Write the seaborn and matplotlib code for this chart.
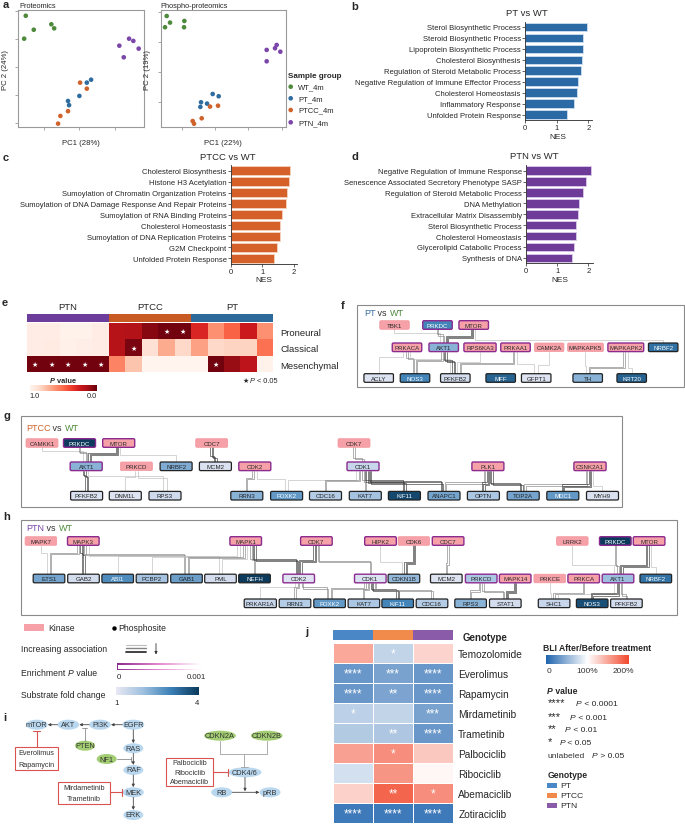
import matplotlib
matplotlib.use("Agg")
import matplotlib.pyplot as plt
import numpy as np
import pandas as pd
import seaborn as sns
from matplotlib.colors import LinearSegmentedColormap, ListedColormap
from matplotlib.patches import Ellipse, FancyBboxPatch, Rectangle

W, H = 685, 829

# ---------------- a: PCA ----------------
GROUPS = ["WT_4m", "PT_4m", "PTCC_4m", "PTN_4m"]
GROUP_COLORS = ["#4d8a3b", "#2f6c9f", "#d0622b", "#7b46a9"]
SAMPLE_GROUP = ["WT_4m"] * 5 + ["PT_4m"] * 5 + ["PTCC_4m"] * 5 + ["PTN_4m"] * 5
PROT_PC1 = [-30.2, -25.7, -15.8, -14.2, -31.1, 6.6, 4.2, 0.0, -6.4, -5.8,
            0.4, 4.2, -6.4, -10.7, -12.0, 28.0, 30.4, 22.5, 33.4, 25.0]
PROT_PC2 = [36.6, 26.6, 30.5, 27.6, 20.2, -9.1, -11.2, -20.7, -24.3, -27.3,
            -11.2, -15.5, -31.6, -35.0, -40.5, 20.2, 18.6, 15.2, 13.1, 6.9]
PHOS_PC1 = [-29.0, -27.0, -30.0, -18.4, -18.6, -1.4, 2.2, -8.4, -4.8, -8.8,
            1.8, -3.0, -8.0, -13.4, -12.6, 31.0, 37.0, 36.0, 39.2, 31.0]
PHOS_PC2 = [37.5, 33.1, 30.0, 34.2, 30.0, -14.5, -16.0, -20.0, -20.9, -23.1,
            -22.3, -22.9, -30.7, -32.5, -34.3, 14.9, 18.2, 16.0, 13.7, 7.3]

# ---------------- b-d: GSEA NES ----------------
PT_TERMS = ["Sterol Biosynthetic Process", "Steroid Biosynthetic Process",
            "Lipoprotein Biosynthetic Process", "Cholesterol Biosynthesis",
            "Regulation of Steroid Metabolic Process",
            "Negative Regulation of Immune Effector Process",
            "Cholesterol Homeostasis", "Inflammatory Response", "Unfolded Protein Response"]
PT_NES = [1.97, 1.84, 1.82, 1.79, 1.76, 1.68, 1.63, 1.55, 1.34]
PTCC_TERMS = ["Cholesterol Biosynthesis", "Histone H3 Acetylation",
              "Sumoylation of Chromatin Organization Proteins",
              "Sumoylation of DNA Damage Response And Repair Proteins",
              "Sumoylation of RNA Binding Proteins", "Cholesterol Homeostasis",
              "Sumoylation of DNA Replication Proteins", "G2M Checkpoint",
              "Unfolded Protein Response"]
PTCC_NES = [1.88, 1.84, 1.79, 1.73, 1.62, 1.56, 1.56, 1.46, 1.36]
PTN_TERMS = ["Negative Regulation of Immune Response",
             "Senescence Associated Secretory Phenotype SASP",
             "Regulation of Steroid Metabolic Process", "DNA Methylation",
             "Extracellular Matrix Disassembly", "Sterol Biosynthetic Process",
             "Cholesterol Homeostasis", "Glycerolipid Catabolic Process", "Synthesis of DNA"]
PTN_NES = [2.10, 1.91, 1.83, 1.70, 1.66, 1.61, 1.60, 1.53, 1.47]

# ---------------- e: subtype P values ----------------
SUBTYPES = ["Proneural", "Classical", "Mesenchymal"]
E_GROUPS = ["PTN", "PTCC", "PT"]
P_PRONEURAL = [0.95, 0.95, 0.98, 0.98, 0.95, 0.18, 0.17, 0.07, 0.02, 0.02,
               0.30, 0.62, 0.48, 0.25, 0.62]
P_CLASSICAL = [0.95, 0.94, 0.97, 0.96, 0.95, 0.18, 0.04, 0.88, 0.70, 0.85,
               0.67, 0.85, 0.83, 0.83, 0.52]
P_MESENCHYMAL = [0.02, 0.02, 0.02, 0.02, 0.02, 0.58, 0.78, 0.99, 0.99, 0.99,
                 0.99, 0.02, 0.10, 0.20, 0.98]

# ---------------- f-h: kinase-substrate networks ----------------
F_ROWS = [["TBK1", "PRKDC", "MTOR"],
          ["PRKACA", "AKT1", "RPS6KA3", "PRKAA1", "CAMK2A", "MAPKAPK5", "MAPKAPK2", "NRBF2"],
          ["ACLY", "NOS3", "PFKFB2", "MFF", "GFPT1", "TH", "KRT20"]]
F_FOLD = {"PRKDC": 2.9, "AKT1": 2.2, "NRBF2": 3.2, "ACLY": 1.15, "NOS3": 2.9,
          "PFKFB2": 1.3, "MFF": 3.4, "GFPT1": 1.15, "TH": 2.2, "KRT20": 3.4}
F_ENRICHED = ["PRKDC", "MTOR", "PRKACA", "AKT1", "RPS6KA3", "PRKAA1", "MAPKAPK2"]
F_EDGES = [("TBK1", "AKT1", 1), ("PRKDC", "AKT1", 2), ("MTOR", "AKT1", 3), ("MTOR", "NRBF2", 1),
           ("PRKACA", "ACLY", 1), ("PRKACA", "NOS3", 2), ("PRKACA", "PFKFB2", 1),
           ("AKT1", "NOS3", 2), ("AKT1", "PFKFB2", 3), ("RPS6KA3", "PFKFB2", 1),
           ("PRKAA1", "PFKFB2", 2), ("PRKAA1", "GFPT1", 1), ("CAMK2A", "GFPT1", 1),
           ("MAPKAPK5", "TH", 1), ("MAPKAPK2", "TH", 2), ("MAPKAPK2", "KRT20", 1)]

G_ROWS = [["CAMKK1", "PRKDC", "MTOR", "CDC7", "CDK7"],
          ["AKT1", "PRKCD", "NRBF2", "MCM2", "CDK2", "CDK1", "PLK1", "CSNK2A1"],
          ["PFKFB2", "DNM1L", "RPS3", "RRN3", "FOXK2", "CDC16", "KAT7", "KIF11",
           "ANAPC1", "OPTN", "TOP2A", "MDC1", "MYH9"]]
G_FOLD = {"PRKDC": 4.0, "AKT1": 2.2, "NRBF2": 2.3, "MCM2": 1.2, "CDK1": 1.45,
          "PFKFB2": 1.2, "DNM1L": 1.15, "RPS3": 1.35, "RRN3": 2.2, "FOXK2": 2.6,
          "CDC16": 1.7, "KAT7": 1.9, "KIF11": 3.8, "ANAPC1": 2.4, "OPTN": 1.8,
          "TOP2A": 2.4, "MDC1": 2.6, "MYH9": 1.2}
G_ENRICHED = ["PRKDC", "MTOR", "AKT1", "CDK2", "CDK1", "PLK1", "CSNK2A1"]
G_EDGES = [("CAMKK1", "AKT1", 1), ("PRKDC", "AKT1", 2), ("MTOR", "AKT1", 3), ("MTOR", "NRBF2", 1),
           ("CDC7", "MCM2", 3), ("CDK7", "CDK1", 2),
           ("AKT1", "PFKFB2", 3), ("AKT1", "RPS3", 1), ("PRKCD", "DNM1L", 1), ("PRKCD", "RPS3", 1),
           ("CDK2", "RRN3", 2), ("CDK2", "FOXK2", 1), ("CDK1", "FOXK2", 1), ("CDK1", "CDC16", 2),
           ("CDK1", "KAT7", 2), ("CDK1", "KIF11", 3), ("CDK1", "ANAPC1", 3),
           ("PLK1", "ANAPC1", 2), ("PLK1", "OPTN", 3), ("PLK1", "TOP2A", 3),
           ("CSNK2A1", "TOP2A", 2), ("CSNK2A1", "MDC1", 3), ("CSNK2A1", "MYH9", 1)]

H_ROWS = [["MAPK7", "MAPK3", "MAPK1", "CDK7", "HIPK2", "CDK6", "CDC7", "LRRK2", "PRKDC", "MTOR"],
          ["ETS1", "GAB2", "ABI1", "PCBP2", "GAB1", "PML", "NEFH", "CDK2", "CDK1", "CDKN1B",
           "MCM2", "PRKCD", "MAPK14", "PRKCE", "PRKCA", "AKT1", "NRBF2"],
          ["PRKAR1A", "RRN3", "FOXK2", "KAT7", "KIF11", "CDC16", "RPS3", "STAT1", "SHC1",
           "NOS3", "PFKFB2"]]
H_FOLD = {"PRKDC": 4.0, "ETS1": 2.4, "GAB2": 1.3, "ABI1": 2.8, "PCBP2": 1.9, "GAB1": 2.5,
          "PML": 1.3, "NEFH": 4.0, "CDK2": 1.15, "CDK1": 1.2, "CDKN1B": 2.1, "MCM2": 1.15,
          "PRKCD": 1.8, "AKT1": 2.0, "NRBF2": 3.2, "PRKAR1A": 1.45, "RRN3": 1.7,
          "FOXK2": 2.6, "KAT7": 1.8, "KIF11": 2.9, "CDC16": 1.7, "RPS3": 2.2,
          "STAT1": 1.3, "SHC1": 1.45, "NOS3": 3.7, "PFKFB2": 1.3}
H_ENRICHED = ["MAPK3", "MAPK1", "CDK7", "HIPK2", "CDC7", "PRKDC", "MTOR", "CDK2", "CDK1",
              "PRKCD", "MAPK14", "PRKCA", "AKT1"]
H_EDGES = [("MAPK7", "ETS1", 1), ("MAPK3", "ETS1", 2), ("MAPK3", "GAB2", 3), ("MAPK3", "GAB1", 2),
           ("MAPK3", "PML", 1), ("MAPK1", "ABI1", 1), ("MAPK1", "PCBP2", 1), ("MAPK1", "GAB1", 2),
           ("MAPK1", "PML", 1), ("MAPK1", "NEFH", 2), ("MAPK1", "CDK2", 3),
           ("CDK7", "CDK2", 3), ("CDK7", "CDK1", 2), ("HIPK2", "CDKN1B", 1), ("CDK6", "CDKN1B", 3),
           ("CDC7", "MCM2", 2), ("LRRK2", "AKT1", 1), ("PRKDC", "AKT1", 2), ("MTOR", "AKT1", 3),
           ("MTOR", "NRBF2", 1), ("CDK2", "PRKAR1A", 1), ("CDK2", "RRN3", 2), ("CDK2", "FOXK2", 2),
           ("CDK1", "FOXK2", 2), ("CDK1", "KAT7", 2), ("CDK1", "KIF11", 3), ("CDK1", "CDC16", 2),
           ("PRKCD", "RPS3", 2), ("PRKCD", "STAT1", 2), ("MAPK14", "STAT1", 3),
           ("PRKCE", "SHC1", 1), ("PRKCA", "SHC1", 2), ("AKT1", "SHC1", 1), ("AKT1", "NOS3", 3),
           ("AKT1", "PFKFB2", 2)]

# ---------------- j: BLI response ----------------
DRUGS = ["Temozolomide", "Everolimus", "Rapamycin", "Mirdametinib", "Trametinib",
         "Palbociclib", "Ribociclib", "Abemaciclib", "Zotiraciclib"]
GENOTYPES = ["PT", "PTCC", "PTN"]
GENO_COLORS = ["#4a87c6", "#f08b4c", "#8a5ba8"]
BLI_PT = [148, 33, 33, 70, 66, 152, 80, 125, 14]
BLI_PTCC = [72, 40, 42, 72, 64, 162, 158, 185, 14]
BLI_PTN = [124, 33, 33, 40, 33, 130, 104, 162, 14]
SIG_PT = ["", "****", "****", "*", "", "", "", "", "****"]
SIG_PTCC = ["*", "***", "**", "", "**", "*", "", "**", "****"]
SIG_PTN = ["", "****", "****", "***", "****", "", "", "*", "****"]

# ---------------- layout (pixels) ----------------
F_X = [[394.5, 437.5, 473.7],
       [407, 443.7, 480, 515.5, 549.2, 585.5, 625.8, 663.2],
       [378.7, 415, 455.3, 500.7, 536.2, 587.7, 631.7]]
F_Y = [326, 348.3, 379]
G_X = [[42, 79.5, 118.7, 211.7, 354],
       [86.2, 136.4, 176.1, 215.4, 254.8, 363, 487.9, 590],
       [86.6, 125.3, 165, 246.8, 286.6, 325.5, 365.3, 404.4, 444, 483.4, 523.2, 562.8, 602.5]]
G_Y = [444, 467.3, 496.7]
H_X = [[40.9, 83.3, 245.7, 316.4, 380.5, 413.8, 448.1, 572.3, 615.3, 649.1],
       [49, 83.5, 117.7, 152, 186.5, 220.5, 254.5, 298.7, 370.3, 403.9, 446.3, 481.2,
        515.2, 549.7, 583.7, 618, 655.8],
       [260.3, 295, 329.6, 363.9, 397.7, 432, 470.6, 505.3, 554.1, 592.2, 626.4]]
H_Y = [542, 579.5, 604.3]

sns.set_style("ticks")
plt.rcParams["font.family"] = ["Liberation Sans", "DejaVu Sans"]
plt.rcParams["axes.linewidth"] = 0.6

FC_CMAP = LinearSegmentedColormap.from_list("fc", ["#e9e9f4", "#9dbfdf", "#3a7fb5", "#0b3a5c"])
BLI_CMAP = LinearSegmentedColormap.from_list("bli", ["#2064ae", "#ffffff", "#f24a2e"])
PINK = "#f6a1a7"
PURPLE = "#8b2b8f"
NODE_H = 8.6


def px_axes(fig, x0, y0, x1, y1):
    return fig.add_axes([x0 / W, 1 - y1 / H, (x1 - x0) / W, (y1 - y0) / H])


def chain_text(ax, x, y, parts, size, renderer, **kw):
    for s, style in parts:
        t = ax.text(x, y, s, fontsize=size, va="center", ha="left", **style, **kw)
        x += t.get_window_extent(renderer=renderer).width


def draw_network(ax, rows, xs, ys, width, fold, enriched, edges):
    pos = {}
    for r, (names, xrow) in enumerate(zip(rows, xs)):
        for name, x in zip(names, xrow):
            pos[name] = (x, ys[r], max(width, 3.6 * len(name) + 7), r)

    # spread of edge ends on each node
    out_e = {}
    in_e = {}
    for e in edges:
        out_e.setdefault(e[0], []).append(e)
        in_e.setdefault(e[1], []).append(e)
    for d, key in ((out_e, 1), (in_e, 0)):
        for k in d:
            d[k].sort(key=lambda e: pos[e[key]][0])

    gap_e = {}
    for e in edges:
        gap_e.setdefault(pos[e[0]][3], []).append(e)
    for r in gap_e:
        gap_e[r].sort(key=lambda e: pos[e[0]][0])

    shade = {1: "#bdbdbd", 2: "#858585", 3: "#3a3a3a"}
    for e in edges:
        s, t, n = e
        sx, sy, sw, sr = pos[s]
        tx, ty, tw, tr = pos[t]
        lo = out_e[s]
        li = in_e[t]
        step_o = min(3.5, 0.7 * sw / max(len(lo), 1))
        step_i = min(3.5, 0.7 * tw / max(len(li), 1))
        kx = sx + (lo.index(e) - (len(lo) - 1) / 2) * step_o
        ex = tx + (li.index(e) - (len(li) - 1) / 2) * step_i
        y0 = sy + NODE_H / 2
        y_gap = ys[sr + 1] - NODE_H / 2
        g = gap_e[sr]
        frac = 0.25 + 0.5 * (g.index(e) / max(len(g) - 1, 1))
        ym = y0 + (y_gap - y0) * frac
        y1 = ty - NODE_H / 2
        for i in range(n):
            d = (i - (n - 1) / 2) * 1.2
            ax.plot([kx + d, kx + d, ex + d, ex + d], [y0, ym + d, ym + d, y1],
                    color=shade[min(n, 3)], lw=0.45, zorder=2, solid_joinstyle="miter")

    for name, (x, y, w, r) in pos.items():
        if name in fold:
            fc = FC_CMAP((fold[name] - 1) / 3)
            ec, lw = ("#222222", 0.9)
            tc = "white" if fold[name] >= 2.6 else "#222222"
        else:
            fc = PINK
            ec, lw = ("#f3949c", 0.5)
            tc = "#2a2a2a"
        if name in enriched:
            ec, lw = (PURPLE, 1.0)
        ax.add_patch(FancyBboxPatch((x - w / 2, y - NODE_H / 2), w, NODE_H,
                                    boxstyle="round,pad=0,rounding_size=1.3",
                                    fc=fc, ec=ec, lw=lw, zorder=3))
        ax.text(x, y, name, fontsize=4.4, ha="center", va="center", color=tc, zorder=4)


def nes_panel(fig, box, terms, nes, color, edge, xmax):
    ax = px_axes(fig, *box)
    df = pd.DataFrame({"term": terms, "NES": nes})
    sns.barplot(data=df, x="NES", y="term", color=color, saturation=1, width=0.78,
                edgecolor=edge, linewidth=0.6, ax=ax)
    ax.set_xlim(0, xmax)
    ax.set_xticks([0, 1, 2])
    ax.set_ylabel("")
    ax.set_xlabel("NES", fontsize=6, labelpad=1)
    ax.tick_params(axis="both", length=2, width=0.5, labelsize=5.5, pad=1)
    sns.despine(ax=ax)
    return ax


def main() -> None:
    fig = plt.figure(figsize=(W / 100, H / 100), dpi=100)

    # ---- a ----
    pca = pd.DataFrame({"group": SAMPLE_GROUP, "prot1": PROT_PC1, "prot2": PROT_PC2,
                        "phos1": PHOS_PC1, "phos2": PHOS_PC2})
    specs = [((18.3, 11, 144, 128), "prot1", "prot2", "PC1 (28%)", "PC 2 (24%)",
              (-34.4, 36.4), (-42.9, 40.7), [-20, 0, 20], [-40, -20, 0, 20, 40]),
             ((160.7, 11, 286, 128), "phos1", "phos2", "PC1 (22%)", "PC 2 (19%)",
              (-32.6, 42.6), (-36.5, 41.5), [-20, 0, 20, 40], [-20, 0, 20, 40])]
    for box, xc, yc, xl, yl, xlim, ylim, xt, yt in specs:
        ax = px_axes(fig, *box)
        sns.scatterplot(data=pca, x=xc, y=yc, hue="group", hue_order=GROUPS,
                        palette=GROUP_COLORS, s=11, edgecolor="none", legend=False, ax=ax)
        ax.set_xlim(*xlim)
        ax.set_ylim(*ylim)
        ax.set_xticks(xt)
        ax.set_yticks(yt)
        ax.set_xticklabels([])
        ax.set_yticklabels([])
        ax.tick_params(length=2, width=0.6, color="#9a9a9a")
        for sp in ax.spines.values():
            sp.set_color("#9a9a9a")
            sp.set_linewidth(0.8)
        ax.set_xlabel(xl, fontsize=5.6, labelpad=3)
        ax.set_ylabel(yl, fontsize=5.6)
        ax.yaxis.set_label_coords(-0.075, 0.5)

    # ---- b, c, d ----
    nes_panel(fig, (525, 22.5, 591.6, 121), PT_TERMS, PT_NES, "#2c6aa5", "#cfe0f1", 2.1)
    nes_panel(fig, (230.7, 166.2, 297.3, 264.8), PTCC_TERMS, PTCC_NES, "#d5602a", "#f6d2bf", 2.1)
    nes_panel(fig, (526, 166.2, 593, 264.3), PTN_TERMS, PTN_NES, "#6e3c98", "#dccbeb", 2.15)

    # ---- e ----
    pmat = pd.DataFrame([P_PRONEURAL, P_CLASSICAL, P_MESENCHYMAL], index=SUBTYPES)
    ax = px_axes(fig, 26.7, 324, 273.3, 373.3)
    sns.heatmap(pmat, cmap="Reds_r", vmin=0, vmax=1, cbar=False, xticklabels=False,
                yticklabels=SUBTYPES, ax=ax)
    ax.tick_params(axis="y", left=False, right=True, labelleft=False, labelright=True,
                   length=0, pad=5, labelsize=6.8, labelrotation=0)
    for i, row in enumerate(pmat.values):
        for j, p in enumerate(row):
            if p < 0.05:
                ax.text(j + 0.5, i + 0.5, "★", color="white", fontsize=5, ha="center",
                        va="center", family=["DejaVu Sans"])
    strip = np.repeat(np.arange(3), 5)[None, :]
    ax = px_axes(fig, 26.7, 315, 273.3, 323.3)
    sns.heatmap(strip, cmap=ListedColormap(["#6c3d9a", "#c85a24", "#2e6a99"]), vmin=-0.5,
                vmax=2.5, cbar=False, xticklabels=False, yticklabels=False, ax=ax)
    ax = px_axes(fig, 30, 386, 96.7, 391.7)
    ax.imshow(np.linspace(1, 0, 256)[None, :], cmap="Reds_r", vmin=0, vmax=1, aspect="auto")
    ax.axis("off")

    # ---- j ----
    bli = pd.DataFrame({"PT": BLI_PT, "PTCC": BLI_PTCC, "PTN": BLI_PTN}, index=DRUGS)
    sig = np.array([SIG_PT, SIG_PTCC, SIG_PTN]).T
    ax = px_axes(fig, 333.3, 644, 452.7, 824)
    sns.heatmap(bli, cmap=BLI_CMAP, vmin=0, vmax=200, annot=sig, fmt="",
                annot_kws={"color": "white", "fontsize": 8.5}, linewidths=0.7,
                linecolor="white", cbar=False, xticklabels=False, yticklabels=DRUGS, ax=ax)
    ax.tick_params(axis="y", left=False, right=True, labelleft=False, labelright=True,
                   length=0, pad=4, labelsize=7.3, labelrotation=0)
    ax = px_axes(fig, 333.3, 631, 452.7, 641)
    sns.heatmap(np.arange(3)[None, :], cmap=ListedColormap(GENO_COLORS), vmin=-0.5, vmax=2.5,
                cbar=False, xticklabels=False, yticklabels=False, ax=ax)
    ax = px_axes(fig, 546, 655.7, 628.3, 665)
    ax.imshow(np.linspace(0, 200, 256)[None, :], cmap=BLI_CMAP, vmin=0, vmax=200, aspect="auto")
    ax.axis("off")

    # ---- overlay for annotations and diagrams (pixel coordinates) ----
    ov = fig.add_axes([0, 0, 1, 1])
    ov.set_xlim(0, W)
    ov.set_ylim(H, 0)
    ov.axis("off")
    renderer = fig.canvas.get_renderer()
    bold = {"fontweight": "bold"}
    ital = {"fontstyle": "italic"}
    plain = {}

    for letter, x, y in [("a", 2.5, 5), ("b", 351.7, 6.7), ("c", 2.5, 158.3), ("d", 351.7, 157.3),
                         ("e", 1.7, 302.7), ("f", 340.5, 305.5), ("g", 4, 416), ("h", 3.3, 517.3),
                         ("i", 3.3, 718.3), ("j", 305, 631.7)]:
        ov.text(x, y, letter, fontsize=8, fontweight="bold", ha="left", va="center")

    # a titles and legend
    ov.text(19, 6, "Proteomics", fontsize=5.3, va="center")
    ov.text(160.7, 6, "Phospho-proteomics", fontsize=5.3, va="center")
    ov.text(288.3, 76.7, "Sample group", fontsize=5.8, fontweight="bold", va="center")
    for g, c, y in zip(GROUPS, GROUP_COLORS, [87.7, 99.3, 111, 123.3]):
        ov.scatter([290.7], [y], s=11, color=c, edgecolor="none")
        ov.text(298.3, y, g, fontsize=5.5, va="center")

    # b-d titles
    ov.text(527, 13, "PT vs WT", fontsize=6.8, ha="center", va="center")
    ov.text(228.3, 157.3, "PTCC vs WT", fontsize=6.8, ha="center", va="center")
    ov.text(534, 156.7, "PTN vs WT", fontsize=6.8, ha="center", va="center")

    # e labels
    for g, x in zip(E_GROUPS, [68, 150, 232]):
        ov.text(x, 307.5, g, fontsize=6.8, ha="center", va="center")
    chain_text(ov, 50, 381, [("P", {"fontstyle": "italic", "fontweight": "bold"}),
                             (" value", bold)], 5.3, renderer)
    ov.text(35, 397, "1.0", fontsize=5.3, ha="center", va="center")
    ov.text(92, 397, "0.0", fontsize=5.3, ha="center", va="center")
    ov.text(243, 381, "★", fontsize=5, va="center", family=["DejaVu Sans"])
    chain_text(ov, 250, 381, [("P", ital), (" < 0.05", plain)], 5.3, renderer)

    # networks
    for box, title, rows, xs, ys, width, fold, enr, edges in [
            ((357.3, 305.7, 684, 388.3), ("PT", "#3a6fa0", 364, 313.5),
             F_ROWS, F_X, F_Y, 29.5, F_FOLD, F_ENRICHED, F_EDGES),
            ((20.7, 417.3, 622, 508.3), ("PTCC", "#d0622b", 26, 428.3),
             G_ROWS, G_X, G_Y, 32, G_FOLD, G_ENRICHED, G_EDGES),
            ((20.8, 521, 677, 616), ("PTN", "#7b46a9", 26.5, 528.5),
             H_ROWS, H_X, H_Y, 31.6, H_FOLD, H_ENRICHED, H_EDGES)]:
        ov.add_patch(Rectangle((box[0], box[1]), box[2] - box[0], box[3] - box[1],
                               fill=False, ec="#8a8a8a", lw=0.8, zorder=1))
        chain_text(ov, title[2], title[3], [(title[0], {"color": title[1]}),
                                            (" vs ", {"color": "#333333"}),
                                            ("WT", {"color": "#4d8a3b"})], 6.5, renderer)
        draw_network(ov, rows, xs, ys, width, fold, enr, edges)

    # network legend
    ov.add_patch(Rectangle((24.3, 625.3), 20, 6.5, color=PINK, lw=0))
    ov.text(48.6, 628.5, "Kinase", fontsize=6.2, va="center")
    ov.plot([114], [628.5], "o", ms=2.2, color="black")
    ov.text(118, 628.5, "Phosphosite", fontsize=6.2, va="center")
    ov.text(21.2, 649.3, "Increasing association", fontsize=6.2, va="center")
    for y, c, lw in [(645.8, "#bdbdbd", 0.8), (649.3, "#858585", 1.0), (652.8, "#333333", 1.3)]:
        ov.plot([126, 146], [y, y], color=c, lw=lw)
    ov.annotate("", xy=(156, 655.5), xytext=(156, 644.5),
                arrowprops=dict(arrowstyle="-|>", lw=0.6, color="#333333", mutation_scale=4,
                                shrinkA=0, shrinkB=0))
    chain_text(ov, 21.2, 674, [("Enrichment ", plain), ("P", ital), (" value", plain)], 6.2, renderer)
    ov.imshow(np.linspace(0, 1, 256)[None, :],
              cmap=LinearSegmentedColormap.from_list("enr", [PURPLE, "#e58ad0", "#ffffff"]),
              extent=(117, 201, 671, 664.3), aspect="auto", zorder=2)
    ov.add_patch(Rectangle((118.4, 665.7), 81.2, 3.9, color="white", lw=0, zorder=3))
    ov.text(119, 677.5, "0", fontsize=5.6, ha="center", va="center")
    ov.text(196, 677.5, "0.001", fontsize=5.6, ha="center", va="center")
    ov.text(20.7, 695.5, "Substrate fold change", fontsize=6.2, va="center")
    ov.imshow(np.linspace(1, 4, 256)[None, :], cmap=FC_CMAP, vmin=1, vmax=4,
              extent=(116, 199, 696, 688.5), aspect="auto", zorder=2)
    ov.text(117, 703.3, "1", fontsize=5.6, ha="center", va="center")
    ov.text(197, 703.3, "4", fontsize=5.6, ha="center", va="center")

    # ---- i: pathway diagram ----
    blue_n, green_n, red = "#b9d8f0", "#a3cd72", "#d9534f"
    nodes = [("mTOR", 36.7, 725.7, 21.7, blue_n), ("AKT", 68.3, 725.7, 21.7, blue_n),
             ("PI3K", 100, 725.7, 21.7, blue_n), ("EGFR", 133.3, 725.7, 22, blue_n),
             ("PTEN", 85, 746.7, 20, green_n), ("RAS", 133.3, 749.3, 20, blue_n),
             ("NF1", 106.7, 760, 20, green_n), ("RAF", 133.3, 771, 20, blue_n),
             ("MEK", 133.3, 793.3, 21, blue_n), ("ERK", 133.3, 816, 20, blue_n),
             ("CDKN2A", 220, 736.7, 31.7, green_n), ("CDKN2B", 266.7, 736.7, 31.7, green_n),
             ("CDK4/6", 245, 773.3, 33, blue_n), ("RB", 221.7, 793.3, 21, blue_n),
             ("pRB", 270, 793.3, 21, blue_n)]
    for name, x, y, w, c in nodes:
        ov.add_patch(Ellipse((x, y), w, 10, color=c, lw=0, zorder=2))
        ov.text(x, y, name, fontsize=5.3, ha="center", va="center", color="#333333", zorder=3)
    arrow = dict(arrowstyle="-|>", lw=0.6, color="#444444", mutation_scale=4, shrinkA=0, shrinkB=0)
    for (x0, y0), (x1, y1) in [((57.5, 725.7), (47.8, 725.7)), ((89.2, 725.7), (79.3, 725.7)),
                               ((122.3, 725.7), (111, 725.7)), ((133.3, 730.7), (133.3, 744.2)),
                               ((133.3, 754.3), (133.3, 765.9)), ((133.3, 776), (133.3, 788.2)),
                               ((133.3, 798.3), (133.3, 810.9)), ((232.2, 793.3), (259.4, 793.3)),
                               ((245, 778.3), (245, 792.3))]:
        ov.annotate("", xy=(x1, y1), xytext=(x0, y0), arrowprops=arrow)
    gray = "#8a8a8a"
    ov.plot([85, 85], [741.7, 729], color=gray, lw=0.6)
    ov.plot([82.5, 87.5], [729, 729], color=gray, lw=0.6)
    ov.plot([116.7, 131], [760, 760], color=gray, lw=0.6)
    ov.plot([131, 131], [757.5, 762.5], color=gray, lw=0.6)
    ov.plot([220, 220, 266.7, 266.7], [741.7, 755, 755, 741.7], color="#a0a0a0", lw=0.6)
    ov.plot([244.3, 244.3], [755, 767.5], color="#a0a0a0", lw=0.6)
    ov.plot([241, 247.6], [767.5, 767.5], color="#a0a0a0", lw=0.6)
    # inhibitor boxes
    for (x0, y0, x1, y1), labels in [((15, 748.3, 58.3, 771), ["Everolimus", "Rapamycin"]),
                                     ((58.3, 782.7, 110, 805), ["Mirdametinib", "Trametinib"]),
                                     ((165.7, 759, 213.3, 787.3),
                                      ["Palbociclib", "Ribociclib", "Abemaciclib"])]:
        ov.add_patch(Rectangle((x0, y0), x1 - x0, y1 - y0, fill=False, ec=red, lw=0.8))
        n = len(labels)
        for k, lab in enumerate(labels):
            ov.text((x0 + x1) / 2, y0 + (y1 - y0) * (k + 0.5) / n, lab, fontsize=5.2,
                    ha="center", va="center", color="#333333")
    ov.plot([36.7, 36.7], [748.3, 731.5], color=red, lw=0.8)
    ov.plot([33.3, 40.1], [731.5, 731.5], color=red, lw=0.8)
    ov.plot([110, 121.8], [793.3, 793.3], color=red, lw=0.8)
    ov.plot([121.8, 121.8], [790, 796.6], color=red, lw=0.8)
    ov.plot([213.3, 227.6], [773.3, 773.3], color=red, lw=0.8)
    ov.plot([227.6, 227.6], [770, 776.6], color=red, lw=0.8)

    # j legends
    ov.text(463, 638.3, "Genotype", fontsize=7, fontweight="bold", va="center")
    ov.text(542.7, 648.3, "BLI After/Before treatment", fontsize=6.2, fontweight="bold", va="center")
    for lab, x in [("0", 549), ("100%", 586.7), ("200%", 623.3)]:
        ov.text(x, 671.7, lab, fontsize=6, ha="center", va="center", color="#333333")
    chain_text(ov, 547.3, 691, [("P", {"fontstyle": "italic", "fontweight": "bold"}),
                                (" value", bold)], 6.2, renderer)
    for stars, y, x in [("****", 703.3, 576), ("***", 716.7, 570), ("**", 729.3, 565),
                        ("*", 741.7, 559.3)]:
        ov.text(547.3, y, stars, fontsize=8, va="center")
        chain_text(ov, x, y + 1.5, [("P", ital), (" < " + {4: "0.0001", 3: "0.001", 2: "0.01",
                                                          1: "0.05"}[len(stars)], plain)],
                   6.1, renderer)
    ov.text(547.3, 756.7, "unlabeled", fontsize=6.1, va="center", color="#333333")
    chain_text(ov, 592, 756.7, [("P", ital), (" > 0.05", plain)], 6.1, renderer)
    ov.text(547.3, 776, "Genotype", fontsize=6.2, fontweight="bold", va="center")
    for g, c, y in zip(GENOTYPES, GENO_COLORS, [786.7, 796.7, 806.7]):
        ov.add_patch(Rectangle((547.3, y - 2.3), 10, 4.6, color=c, lw=0))
        ov.text(560, y, g, fontsize=6.1, va="center")

    fig.savefig("out.png", dpi=100)
    plt.close(fig)


if __name__ == "__main__":
    main()
